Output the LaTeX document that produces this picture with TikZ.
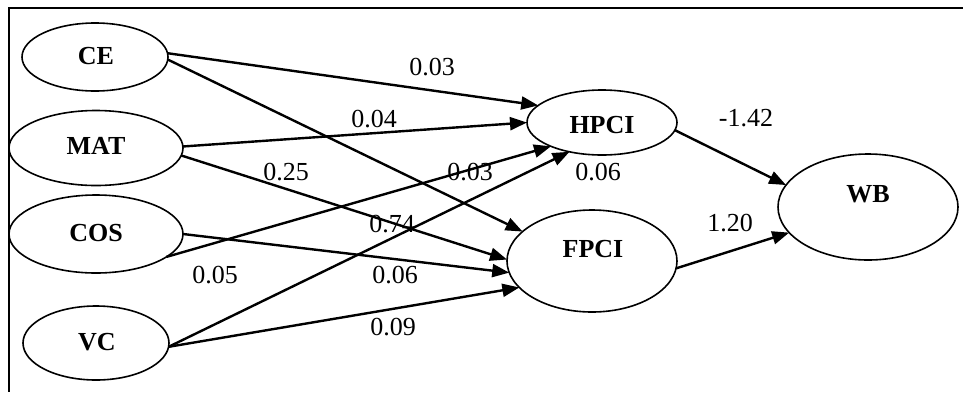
\documentclass[tikz,border=0pt]{standalone}
\usepackage{fontspec}
\setmainfont{Liberation Serif}
\usetikzlibrary{shapes.geometric,arrows.meta}
\begin{document}
\begin{tikzpicture}[x=1pt,y=-1pt,
  lv/.style={ellipse,draw,line width=1.6pt,inner sep=0pt,outer sep=0pt},
  nm/.style={font=\fontsize{26}{30}\selectfont\bfseries,inner sep=0pt},
  cf/.style={font=\fontsize{26}{30}\selectfont,inner sep=0pt},
  pth/.style={line width=2.4pt,-{Triangle[length=17pt,width=13pt]}}
]
\useasboundingbox (0,0) rectangle (963,392);
\draw[line width=1.6pt] (963,8) -- (9,8) -- (9,392);

\node[lv,minimum width=146pt,minimum height=68pt] (CE) at (95,57) {};
\node[nm] (CEt) at (96,56) {CE};
\node[lv,minimum width=174pt,minimum height=75pt] (MAT) at (96,148) {};
\node[nm] (MATt) at (96,146) {MAT};
\node[lv,minimum width=174pt,minimum height=78pt] (COS) at (96,234) {};
\node[nm] (COSt) at (96,233) {COS};
\node[lv,minimum width=146pt,minimum height=74pt] (VC) at (96,343) {};
\node[nm] (VCt) at (97,342) {VC};
\node[lv,minimum width=150pt,minimum height=65pt] (HPCI) at (602,122.5) {};
\node[nm] (HPCIt) at (602,125) {HPCI};
\node[lv,minimum width=170pt,minimum height=102pt] (FPCI) at (592,261) {};
\node[nm] (FPCIt) at (593,249) {FPCI};
\node[lv,minimum width=180pt,minimum height=106pt] (WB) at (868,207) {};
\node[nm] (WBt) at (868,194) {WB};

\draw[pth] (CE.3) -- (HPCI.165);
\draw[pth] (CE.-2) -- (FPCI.157);
\draw[pth] (MAT.1) -- (HPCI.180);
\draw[pth] (MAT.-5) -- (FPCI.179);
\draw[pth] (COS.-18) -- (HPCI.205);
\draw[pth] (COS.0) -- (FPCI.188);
\draw[pth] (VC.-3) -- (HPCI.222);
\draw[pth] (VC.-3) -- (FPCI.200);
\draw[pth] (HPCI.-6) -- (WB.165);
\draw[pth] (FPCI.-5) -- (WB.198);

\node[cf] (l1) at (432,67) {0.03};
\node[cf] (l2) at (374,119) {0.04};
\node[cf] (l3) at (286,172) {0.25};
\node[cf] (l4) at (470,172) {0.03};
\node[cf] (l5) at (598,172) {0.06};
\node[cf] (l6) at (392,224) {0.74};
\node[cf] (l7) at (215,275) {0.05};
\node[cf] (l8) at (395,275) {0.06};
\node[cf] (l9) at (393,327) {0.09};
\node[cf] (l10) at (746,118) {-1.42};
\node[cf] (l11) at (730,223) {1.20};
\end{tikzpicture}
\end{document}
